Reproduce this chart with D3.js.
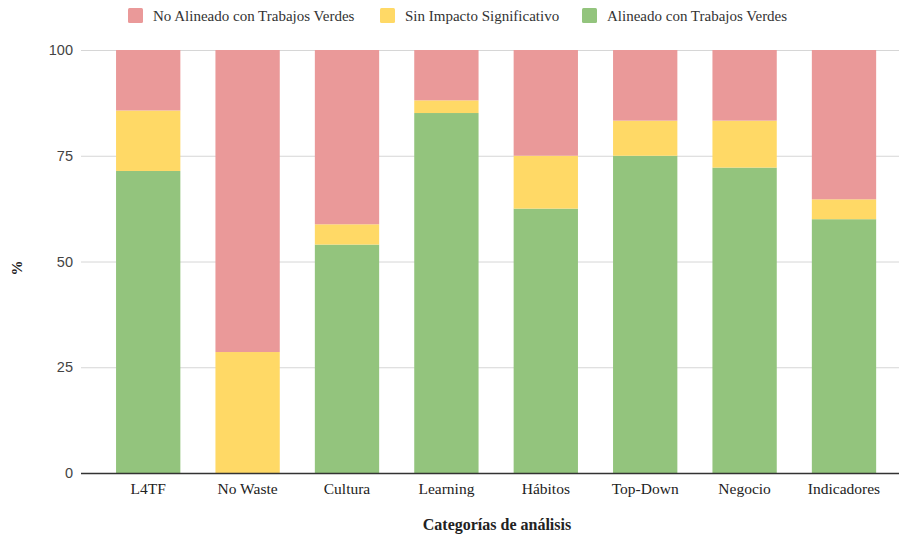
<!DOCTYPE html>
<html>
<head>
<meta charset="utf-8">
<script src="https://cdn.jsdelivr.net/npm/d3@7"></script>
<style>
  html, body { margin: 0; padding: 0; background: #fff; }
  svg { display: block; }
  .serif { font-family: "Liberation Serif", Tinos, "Times New Roman", Times, "DejaVu Serif", serif; }
  .sans { font-family: "Liberation Sans", Arimo, Arial, sans-serif; }
</style>
</head>
<body>
<svg id="chart" width="899" height="537"></svg>
<script>
// Categories along the x axis
const categories = ["L4TF", "No Waste", "Cultura", "Learning", "Hábitos", "Top-Down", "Negocio", "Indicadores"];

// Percent of items in each category, per classification (stacked bottom to top)
const alineado    = [71.4,  0.0, 54.0, 85.1, 62.5, 75.0, 72.2, 60.0];
const sinImpacto  = [14.3, 28.6,  4.8,  3.0, 12.5,  8.3, 11.1,  4.7];
const noAlineado  = [14.3, 71.4, 41.2, 11.9, 25.0, 16.7, 16.7, 35.3];

const seriesNames = ["Alineado con Trabajos Verdes", "Sin Impacto Significativo", "No Alineado con Trabajos Verdes"];
const seriesColors = ["#93c47d", "#ffd966", "#ea9999"];
const legendOrder = [2, 1, 0];

const yTicks = [0, 25, 50, 75, 100];

const rows = categories.map((c, i) => ({
  cat: c,
  [seriesNames[0]]: alineado[i],
  [seriesNames[1]]: sinImpacto[i],
  [seriesNames[2]]: noAlineado[i]
}));

const svg = d3.select("#chart");
const plotLeft = 81, plotRight = 899;

const x = d3.scaleBand()
  .domain(categories)
  .range([98.5, 893.7])
  .paddingInner(0.353)
  .paddingOuter(0.1765);

const y = d3.scaleLinear().domain([0, 100]).range([473, 50]);

// Horizontal gridlines
svg.append("g")
  .selectAll("line")
  .data(yTicks.filter(t => t !== 0))
  .join("line")
  .attr("x1", plotLeft).attr("x2", plotRight)
  .attr("y1", d => y(d) + 0.5).attr("y2", d => y(d) + 0.5)
  .attr("stroke", "#d6d6d6").attr("stroke-width", 1);

// Y tick labels
const yAxis = d3.axisLeft(y).tickValues(yTicks).tickSize(0).tickPadding(8);
const gy = svg.append("g").attr("transform", `translate(${plotLeft},0)`).call(yAxis)
  .attr("font-family", null).attr("font-size", null);
gy.select(".domain").remove();
gy.selectAll("text")
  .attr("class", "sans")
  .style("font-size", "14.5px")
  .attr("fill", "#444");

// Stacked bars
const stacked = d3.stack().keys(seriesNames)(rows);

svg.append("g")
  .selectAll("g")
  .data(stacked)
  .join("g")
  .attr("fill", (d, i) => seriesColors[i])
  .selectAll("rect")
  .data(d => d)
  .join("rect")
  .attr("x", d => x(d.data.cat))
  .attr("width", x.bandwidth())
  .attr("y", d => y(d[1]))
  .attr("height", d => Math.max(0, y(d[0]) - y(d[1])));

// Baseline
svg.append("line")
  .attr("x1", plotLeft).attr("x2", plotRight)
  .attr("y1", y(0) + 0.5).attr("y2", y(0) + 0.5)
  .attr("stroke", "#333").attr("stroke-width", 1.3);

// X tick labels
const xAxis = d3.axisBottom(x).tickSize(0).tickPadding(10);
const gx = svg.append("g").attr("transform", `translate(0,${y(0)})`).call(xAxis)
  .attr("font-family", null).attr("font-size", null);
gx.select(".domain").remove();
gx.selectAll("text")
  .attr("class", "serif")
  .style("font-size", "15.5px")
  .attr("fill", "#222");

// Axis titles
svg.append("text")
  .attr("class", "serif")
  .attr("x", 497).attr("y", 530)
  .attr("text-anchor", "middle")
  .style("font-weight", "bold")
  .style("font-size", "16px")
  .attr("fill", "#222")
  .text("Categorías de análisis");

svg.append("text")
  .attr("class", "serif")
  .attr("transform", "translate(22,268) rotate(-90)")
  .attr("text-anchor", "middle")
  .style("font-weight", "bold")
  .style("font-size", "15px")
  .attr("fill", "#222")
  .text("%");

// Legend
const legendX = [128, 380, 582];
const lg = svg.append("g")
  .selectAll("g")
  .data(legendOrder)
  .join("g")
  .attr("transform", (d, i) => `translate(${legendX[i]},8)`);
lg.append("rect")
  .attr("width", 15).attr("height", 15).attr("rx", 1.5)
  .attr("fill", d => seriesColors[d]);
lg.append("text")
  .attr("class", "serif")
  .attr("x", 25).attr("y", 12.5)
  .style("font-size", "15px")
  .attr("fill", "#333")
  .text(d => seriesNames[d]);
</script>
</body>
</html>
